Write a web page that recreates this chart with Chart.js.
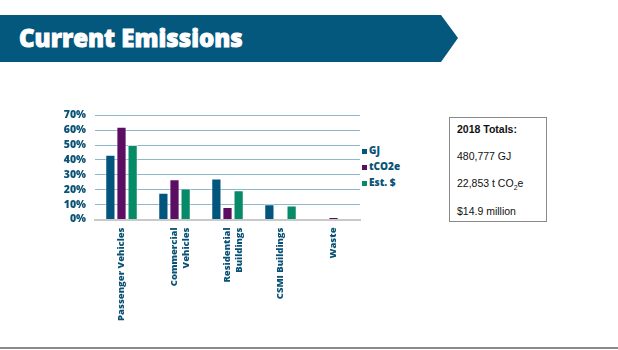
<!DOCTYPE html>
<html>
<head>
<meta charset="utf-8">
<script src="https://cdn.jsdelivr.net/npm/chart.js@4"></script>
<style>
  body { margin: 0; width: 618px; height: 350px; background: #fff; position: relative; overflow: hidden; font-family: "Open Sans", sans-serif; }
  #banner { position: absolute; left: 0; top: 15px; width: 458px; height: 47px; background: #04577d;
    clip-path: polygon(0 0, 441px 0, 458px 23px, 441px 47px, 0 47px); }
  #banner h1 { margin: 0; position: absolute; left: 19px; top: 6px; color: #fff; font: 800 24px "Open Sans", sans-serif;
    letter-spacing: 0px; -webkit-text-stroke: 0.9px #fff; }
  #wrap { position: absolute; left: 50px; top: 100px; width: 312px; height: 225px; }
  #legend { position: absolute; left: 362px; top: 144px; font: 800 10px "Open Sans", sans-serif; color: #0a5275; }
  #legend div { height: 16px; line-height: 12px; }
  #legend span { display: inline-block; width: 5px; height: 5px; margin-right: 2px; vertical-align: 0px; }
  #totals { position: absolute; left: 449px; top: 117px; width: 98px; height: 105px; border: 1px solid #8a8a8a; box-sizing: border-box;
    font: 10.5px "Liberation Sans", sans-serif; color: #111; }
  #totals p { margin: 0; position: absolute; left: 7px; }
  #bottomline { position: absolute; left: 0; top: 347px; width: 618px; height: 2px; background: #8a8a8a; }
</style>
</head>
<body>
<div id="banner"><h1>Current Emissions</h1></div>
<div id="wrap"><canvas id="chart"></canvas></div>
<div id="legend"></div>
<div id="totals">
  <p style="top:5px;font-weight:bold">2018 Totals:</p>
  <p style="top:32px">480,777 GJ</p>
  <p style="top:59px">22,853 t CO<sub style="font-size:7px">2</sub>e</p>
  <p style="top:87px">$14.9 million</p>
</div>
<div id="bottomline"></div>
<script>
const categories = ['Passenger Vehicles', ['Commercial', 'Vehicles'], ['Residential', 'Buildings'], 'CSMI Buildings', 'Waste'];
const seriesNames = ['GJ', 'tCO2e', 'Est. $'];
const gj = [43.5, 18, 27.5, 10.3, 0];
const tco2e = [62.3, 27, 8.4, 0.5, 1.6];
const cost = [50, 20.8, 19.7, 9.4, 0];
const colors = ['#04557e', '#5c0e63', '#078a67'];
const yTicks = [0, 10, 20, 30, 40, 50, 60, 70];

const navy = '#0a5275';

const datasets = [gj, tco2e, cost].map((vals, i) => ({
  label: seriesNames[i],
  data: vals,
  backgroundColor: colors[i],
  borderColor: 'rgba(255,255,255,0.55)',
  borderWidth: 1,
  barPercentage: 0.92,
  categoryPercentage: 0.63
}));

new Chart(document.getElementById('chart'), {
  type: 'bar',
  data: { labels: categories, datasets: datasets },
  options: {
    responsive: true,
    maintainAspectRatio: false,
    animation: false,
    layout: { padding: { top: 13.5, right: 2, left: 0, bottom: 0 } },
    plugins: { legend: { display: false }, tooltip: { enabled: false } },
    scales: {
      x: {
        grid: { display: false },
        border: { color: '#c9c9c9', width: 2 },
        ticks: {
          minRotation: 90, maxRotation: 90, autoSkip: false,
          color: navy, padding: 0,
          font: { family: 'Open Sans', weight: 800, size: 9.5, lineHeight: 1.25 }
        },
        afterFit: (s) => { s.height = 105.5; }
      },
      y: {
        min: 0, max: 70,
        afterBuildTicks: (s) => { s.ticks = yTicks.map(v => ({ value: v })); },
        grid: { color: '#8fb7cb', lineWidth: 1, drawTicks: false },
        border: { display: false },
        ticks: {
          autoSkip: false,
          color: navy, padding: 9,
          font: { family: 'Open Sans', weight: 800, size: 10.5 },
          callback: (v) => v + '%'
        },
        afterFit: (s) => { s.width = 45; }
      }
    }
  }
});

const legend = document.getElementById('legend');
seriesNames.forEach((name, i) => {
  const row = document.createElement('div');
  row.innerHTML = '<span style="background:' + colors[i] + '"></span>' + name;
  legend.appendChild(row);
});
</script>
</body>
</html>
